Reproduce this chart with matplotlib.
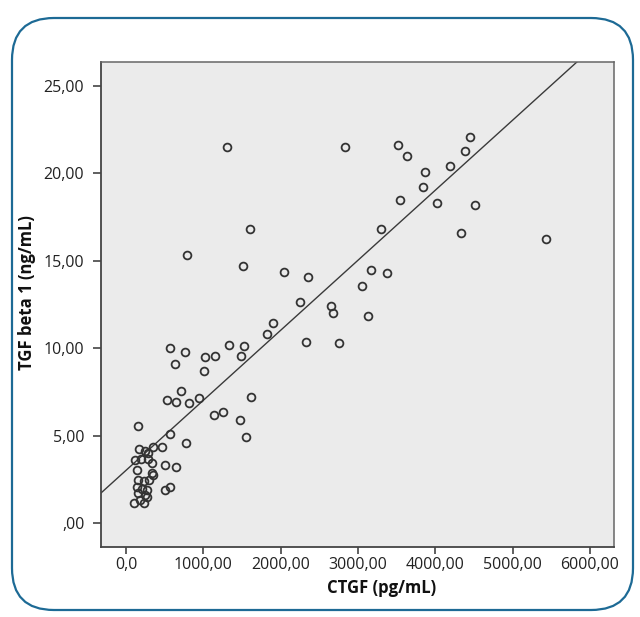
import matplotlib
matplotlib.use("Agg")
import matplotlib.pyplot as plt
from matplotlib.patches import FancyBboxPatch
import numpy as np

plt.rcParams['font.family'] = ['Open Sans', 'DejaVu Sans']

ctgf = [1307, 2831, 3519, 3628, 4455, 4385, 4195, 3866, 3840, 3537, 4026, 4515,
        1602, 3294, 4338, 5429, 783, 1515, 2048, 2355, 3169, 3381, 3048, 2255,
        2654, 2680, 3134, 1896, 1827,
        2329, 2749, 571, 762, 1325, 1519, 1026, 1147, 1481, 628, 1004, 710, 532,
        649, 818, 948, 1615, 1139, 1247, 1472, 1550,
        160, 562, 770, 463, 351, 169, 247, 281, 117, 195, 281, 506, 649, 333,
        139, 333, 342, 290, 160, 225, 139, 203, 268, 562, 498, 160, 238, 268,
        108, 182, 225]
tgfb1 = [21.5, 21.53, 21.6, 21.0, 22.1, 21.3, 20.4, 20.1, 19.2, 18.5, 18.3, 18.2,
         16.84, 16.84, 16.6, 16.26, 15.35, 14.72, 14.38, 14.05, 14.47, 14.3, 13.54, 12.64,
         12.41, 12.03, 11.86, 11.46, 10.81,
         10.35, 10.3, 10.0, 9.8, 10.2, 10.1, 9.5, 9.55, 9.55, 9.08, 8.7, 7.53, 7.05,
         6.92, 6.85, 7.13, 7.2, 6.16, 6.37, 5.87, 4.94,
         5.55, 5.09, 4.58, 4.37, 4.33, 4.22, 4.14, 4.02, 3.6, 3.64, 3.64, 3.32, 3.2, 3.41,
         3.03, 2.84, 2.73, 2.46, 2.46, 2.42, 2.04, 1.96, 1.89, 2.08, 1.89, 1.7, 1.62, 1.5,
         1.13, 1.32, 1.13]

fit_intercept = 3.02
fit_slope = 0.004004

xticks = [0, 1000, 2000, 3000, 4000, 5000, 6000]
xticklabels = ["0,0", "1000,00", "2000,00", "3000,00", "4000,00", "5000,00", "6000,00"]
yticks = [0, 5, 10, 15, 20, 25]
yticklabels = [",00", "5,00", "10,00", "15,00", "20,00", "25,00"]

W, H = 640, 617
fig = plt.figure(figsize=(W / 100, H / 100), dpi=100)

# rounded frame
frame = FancyBboxPatch((0.12, 0.07), 6.21, 5.92,
                       boxstyle="round,pad=0,rounding_size=0.42",
                       transform=fig.dpi_scale_trans, fill=False,
                       edgecolor='#1d6a95', linewidth=1.6)
fig.patches.append(frame)

ax = fig.add_axes([101 / W, 1 - 547 / H, (614 - 101) / W, (547 - 62) / H])
ax.set_facecolor('#ebebeb')
ax.set_xlim(-325, 6312)
ax.set_ylim(-1.37, 26.37)

xl = np.array(ax.get_xlim())
ax.plot(xl, fit_intercept + fit_slope * xl, color='#3a3a3a', linewidth=1.0, zorder=2)
ax.plot(ctgf, tgfb1, linestyle='none', marker='o', markersize=5.6,
        markerfacecolor='none', markeredgecolor='#333333', markeredgewidth=1.3, zorder=3)

ax.set_xticks(xticks)
ax.set_xticklabels(xticklabels)
ax.set_yticks(yticks)
ax.set_yticklabels(yticklabels)
ax.tick_params(axis='x', length=5, width=1.2, color='#444444', pad=2,
               labelsize=11.5, labelcolor='#222222')
ax.tick_params(axis='y', length=6, width=1.2, color='#444444', pad=6,
               labelsize=11.5, labelcolor='#222222')
for s in ['left', 'bottom']:
    ax.spines[s].set_color('#444444')
    ax.spines[s].set_linewidth(1.3)
for s in ['top', 'right']:
    ax.spines[s].set_color('#666666')
    ax.spines[s].set_linewidth(1.1)

fig.text(382 / W, 1 - 588 / H, "CTGF (pg/mL)", ha='center', va='center',
         fontsize=12, fontweight='bold', color='#111111')
fig.text(27 / W, 1 - 293 / H, "TGF beta 1 (ng/mL)", ha='center', va='center',
         rotation=90, fontsize=12, fontweight='bold', color='#111111')

fig.savefig("out.png", dpi=100)
